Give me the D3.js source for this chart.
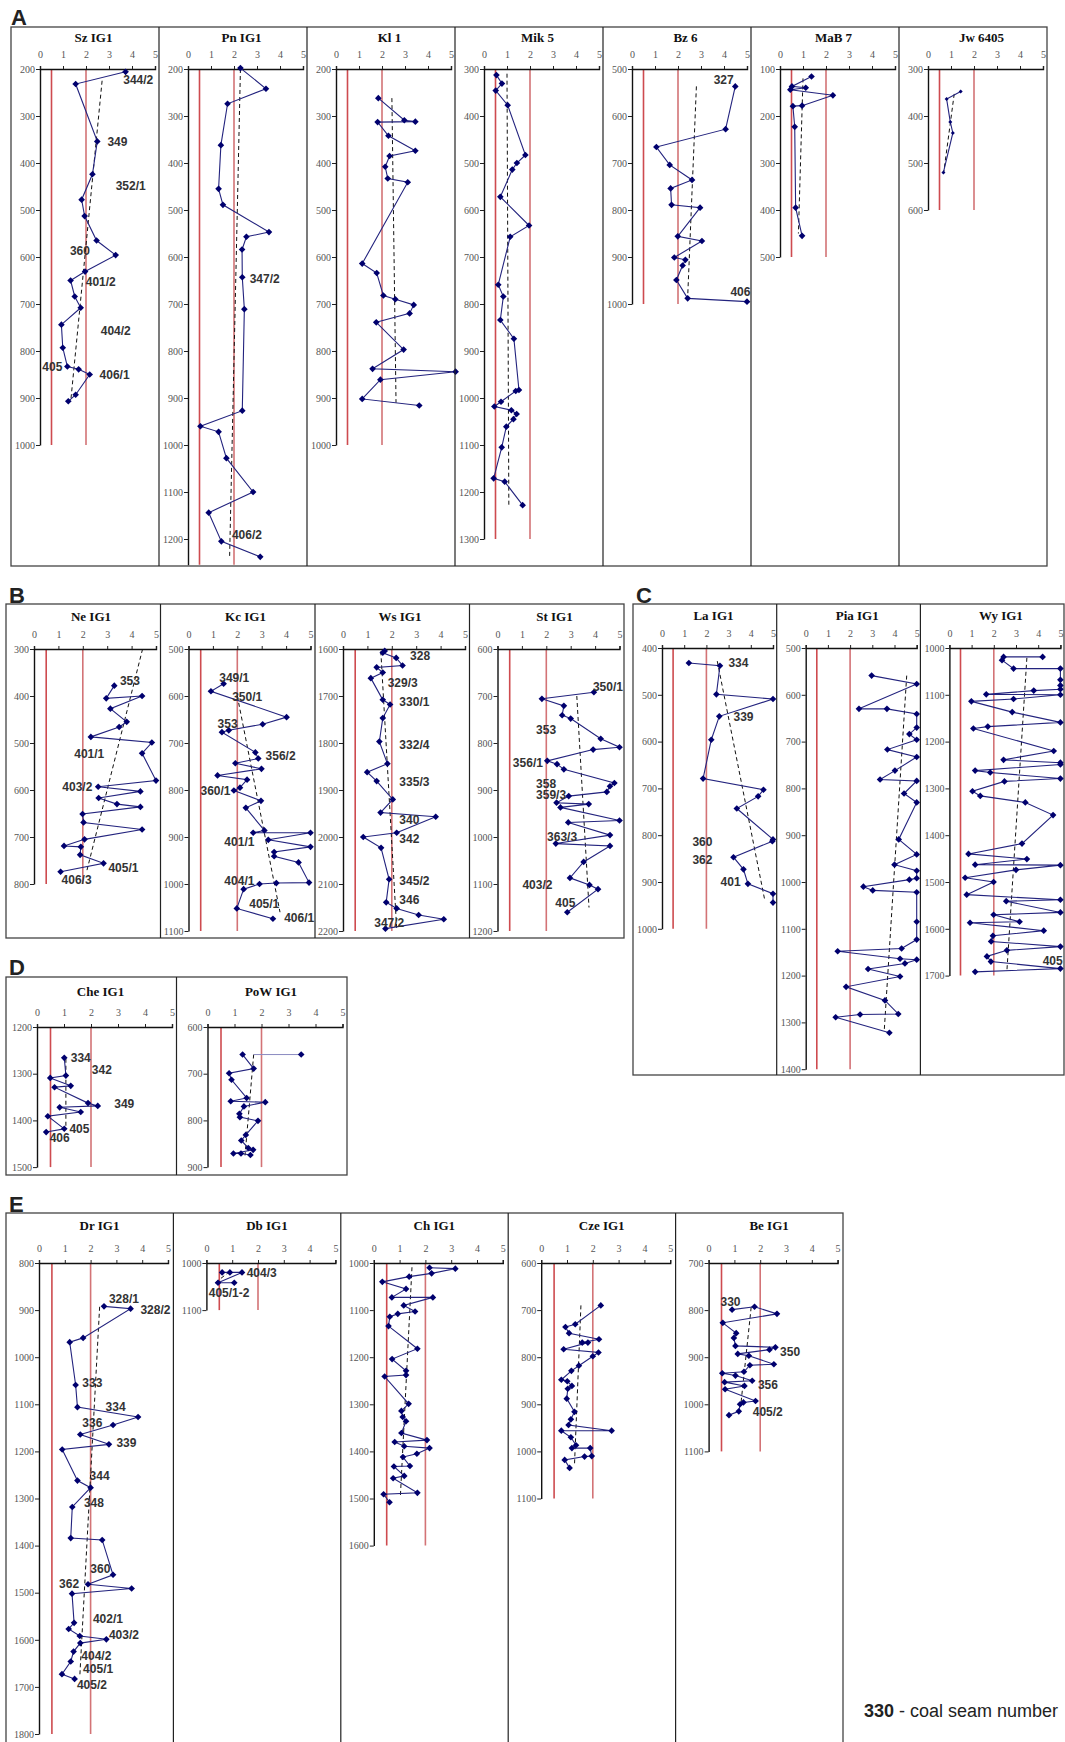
<!DOCTYPE html>
<html><head><meta charset="utf-8">
<script src="https://cdn.jsdelivr.net/npm/d3@7"></script>
<style>body{margin:0;background:#fff}</style>
</head><body><svg id="c" width="1065" height="1742"></svg>
<script>
// ---------- shared ----------
const xTicks = [0, 1, 2, 3, 4, 5];
const thresholds = [0.5, 2];

// ---------- Section A ----------
const szPts = [[3.72,206],[1.55,232],[2.49,354],[2.28,424],[1.81,478],[1.94,513],[2.46,565],[3.29,596],[1.96,631],[1.33,650],[1.51,684],[1.77,708],[0.93,744],[0.99,793],[1.19,833],[1.68,839],[2.16,850],[1.55,893],[1.23,907]];
const szTrend = [[2.7,225],[1.35,900]];
const szSeams = [["344/2",3.62,224],["349",2.93,354],["352/1",3.29,449],["360",1.30,586],["401/2",1.99,652],["404/2",2.64,756],["405",0.10,833],["406/1",2.59,850]];

const pnPts = [[2.28,198],[3.39,242],[1.72,274],[1.43,362],[1.33,455],[1.52,489],[3.52,547],[2.54,557],[2.35,584],[2.36,643],[2.45,711],[2.36,927],[0.54,960],[1.33,972],[1.67,1028],[2.83,1100],[0.90,1144],[1.45,1205],[3.14,1238]];
const pnTrend = [[2.28,200],[1.81,1236]];
const pnSeams = [["347/2",2.68,647],["406/2",1.91,1190]];

const klPts = [[1.84,262],[2.97,309],[3.45,312],[1.81,313],[2.28,342],[3.45,374],[2.33,385],[2.14,408],[2.25,433],[3.12,441],[1.14,614],[1.77,634],[2.06,682],[2.58,690],[3.38,702],[3.20,720],[1.75,739],[2.94,797],[1.59,838],[5.2,844],[1.93,861],[1.14,902],[3.62,916]];
const klTrend = [[2.43,262],[2.61,910]];
const klSeams = [];

const mikPts = [[0.54,313],[0.78,331],[0.51,346],[1.03,377],[1.80,483],[1.43,500],[1.23,514],[0.71,572],[1.96,633],[1.14,657],[0.62,759],[0.84,784],[0.71,834],[1.30,874],[1.52,983],[1.38,985],[0.74,1008],[0.45,1018],[1.19,1026],[1.42,1034],[1.28,1045],[0.97,1061],[0.77,1105],[0.42,1171],[0.90,1178],[1.68,1228]];
const mikTrend = [[1.0,310],[1.08,1230]];
const mikSeams = [];

const bzPts = [[4.49,537],[4.07,628],[1.06,666],[1.64,704],[2.61,736],[1.68,754],[1.72,789],[2.96,795],[1.99,856],[3.04,866],[1.84,901],[2.32,906],[2.20,918],[1.93,949],[2.42,988],[5.0,995]];
const bzTrend = [[2.8,537],[2.42,986]];
const bzSeams = [["327",3.55,522],["406",4.28,973]];

const mabPts = [[1.37,116],[0.52,137],[1.12,140],[0.45,144],[2.30,156],[0.96,178],[0.56,179],[0.64,223],[0.68,395],[0.96,455]];
const mabTrend = [[1.0,120],[0.8,450]];
const mabSeams = [];

const jwPts = [[1.42,348],[0.81,364],[0.97,413],[1.08,436],[0.67,520]];
const jwTrend = [[1.14,353],[0.69,518]];
const jwSeams = [];

// ---------- Section B ----------
const nePts = [[3.29,378],[2.96,405],[4.43,400],[3.13,427],[3.80,455],[3.49,466],[2.33,487],[4.83,499],[4.43,522],[5.0,580],[2.63,593],[4.36,603],[2.65,617],[3.40,630],[4.36,636],[1.99,651],[2.03,669],[4.43,684],[2.07,705],[1.23,719],[1.92,721],[1.89,738],[2.85,756],[1.09,774]];
const neTrend = [[4.45,300],[2.15,775]];
const neSeams = [["353",3.52,367],["401/1",1.65,522],["403/2",1.16,593],["405/1",3.05,765],["406/3",1.13,790]];

const kcPts = [[1.44,574],[0.92,590],[4.02,645],[3.04,660],[1.65,673],[1.37,677],[2.74,720],[2.86,733],[1.92,743],[2.99,755],[1.19,769],[2.40,778],[2.11,795],[1.86,801],[2.97,823],[2.35,838],[3.11,886],[2.65,891],[5.0,891],[3.27,906],[5.0,921],[3.51,932],[3.51,941],[4.51,954],[4.94,997],[3.60,998],[2.91,1000],[2.26,1011],[1.98,1052],[3.46,1074]];
const kcTrend = [[2.0,600],[3.75,1060]];
const kcSeams = [["349/1",1.26,562],["350/1",1.79,601],["353",1.19,659],["356/2",3.16,728],["360/1",0.49,801],["401/1",1.47,911],["404/1",1.47,993],["405/1",2.49,1042],["406/1",3.92,1072]];

const wsPts = [[1.71,1604],[1.63,1608],[2.18,1619],[2.44,1635],[1.38,1639],[1.63,1650],[1.14,1662],[1.63,1708],[1.93,1718],[1.63,1747],[1.49,1797],[1.82,1844],[0.99,1862],[1.38,1881],[2.04,1920],[1.54,1948],[3.80,1957],[2.20,1991],[0.83,2000],[1.56,2023],[1.89,2090],[1.77,2139],[2.20,2152],[3.10,2166],[4.13,2175],[1.74,2195]];
const wsTrend = [[1.55,1605],[2.2,2195]];
const wsSeams = [["328",2.75,1614],["329/3",1.83,1671],["330/1",2.31,1712],["332/4",2.31,1803],["335/3",2.31,1883],["340",2.31,1963],["342",2.31,2003],["345/2",2.31,2094],["346",2.31,2133],["347/2",1.28,2182]];

const stPts = [[3.95,692],[1.82,706],[2.72,721],[2.65,741],[3.00,748],[4.23,791],[5.0,809],[3.92,814],[2.04,838],[2.44,845],[2.72,856],[4.79,885],[4.61,892],[4.48,904],[2.92,913],[2.42,927],[3.74,930],[2.58,937],[5.0,965],[2.90,969],[4.61,996],[2.39,1014],[4.61,1019],[3.53,1053],[2.97,1087],[3.77,1102],[4.12,1111],[2.86,1160]];
const stTrend = [[3.25,700],[3.75,1150]];
const stSeams = [["350/1",3.91,680],["353",1.58,771],["356/1",0.63,842],["358",1.58,886],["359/3",1.58,911],["363/3",2.03,1000],["403/2",1.02,1102],["405",2.37,1141]];

// ---------- Section C ----------
const laPts = [[1.21,432],[2.61,438],[2.45,499],[5.0,509],[2.58,546],[2.22,596],[1.85,679],[4.57,703],[4.33,717],[3.37,743],[5.0,809],[4.97,813],[3.22,847],[3.67,873],[3.87,904],[5.0,925],[5.0,944]];
const laTrend = [[2.49,428],[4.63,939]];
const laSeams = [["334",2.99,432],["339",3.22,548],["360",1.37,814],["362",1.37,853],["401",2.64,900]];

const piaPts = [[2.97,559],[5.0,577],[2.40,630],[3.66,630],[5.0,641],[5.0,670],[4.67,684],[5.0,696],[3.68,717],[5.0,733],[4.02,762],[3.35,781],[5.0,784],[4.43,811],[5.0,830],[4.19,909],[5.0,941],[4.0,963],[5.0,976],[5.0,992],[4.67,995],[2.6,1010],[3.02,1018],[5.0,1022],[5.0,1085],[5.0,1123],[4.32,1142],[1.44,1148],[4.25,1164],[5.0,1166],[4.47,1174],[2.81,1186],[4.25,1202],[1.82,1224],[3.57,1253],[4.17,1282],[2.45,1283],[1.35,1289],[3.77,1322]];
const piaTrend = [[4.55,559],[3.54,1316]];
const piaSeams = [];

const wyPts = [[4.2,1019],[2.44,1019],[2.37,1026],[2.89,1044],[5.0,1044],[5.0,1068],[5.0,1080],[5.0,1088],[3.80,1091],[1.66,1099],[5.0,1100],[2.89,1109],[0.99,1114],[2.83,1137],[5.0,1159],[1.73,1168],[1.08,1172],[4.70,1220],[2.44,1239],[5.0,1245],[5.0,1249],[1.16,1262],[1.84,1266],[5.0,1279],[2.48,1285],[1.04,1306],[1.39,1316],[3.42,1330],[4.67,1357],[3.27,1418],[0.86,1440],[3.49,1451],[1.16,1463],[5.0,1464],[3.0,1474],[0.71,1491],[1.99,1500],[0.78,1527],[5.0,1538],[2.56,1541],[5.0,1565],[1.99,1570],[3.16,1585],[0.93,1587],[4.25,1604],[1.96,1615],[1.88,1627],[5.0,1638],[2.59,1646],[1.69,1659],[1.87,1670],[5.0,1685],[1.16,1692]];
const wyTrend = [[3.49,1021],[2.59,1690]];
const wySeams = [["405",4.2,1668]];

// ---------- Section D ----------
const chePts = [[1.01,1266],[1.07,1304],[0.49,1309],[1.25,1326],[0.65,1329],[1.89,1363],[2.25,1369],[0.84,1372],[1.62,1382],[0.40,1391],[1.01,1418],[0.34,1425]];
const cheTrend = [[1.07,1268],[1.07,1414]];
const cheSeams = [["334",1.25,1266],["342",2.03,1291],["349",2.86,1364],["405",1.2,1418],["406",0.47,1437]];

const powPts = [[1.30,659],[1.71,689],[0.80,699],[0.89,713],[1.45,752],[0.86,759],[2.14,761],[1.35,770],[1.18,786],[1.20,793],[1.87,801],[1.42,831],[1.25,843],[1.51,859],[1.69,863],[0.96,871],[1.24,871],[1.59,874]];
const powExtra = [[3.47,659]];
const powTrend = [[1.71,659],[1.39,875]];
const powSeams = [];

// ---------- Section E ----------
const drPts = [[2.52,892],[3.55,897],[1.71,959],[1.19,968],[1.42,1059],[1.49,1106],[3.84,1127],[2.87,1144],[1.60,1164],[2.71,1185],[0.90,1196],[1.49,1262],[2.0,1277],[1.29,1318],[1.23,1384],[2.45,1388],[2.87,1462],[1.90,1482],[3.59,1491],[1.28,1502],[1.36,1564],[1.15,1577],[1.58,1592],[2.61,1599],[1.60,1607],[1.34,1625],[1.23,1646],[0.89,1673],[1.38,1683]];
const drTrend = [[2.35,893],[1.58,1679]];
const drSeams = [["328/1",2.71,876],["328/2",3.93,899],["333",1.68,1055],["334",2.58,1105],["336",1.68,1139],["339",3.0,1182],["344",1.96,1251],["348",1.74,1310],["360",1.99,1449],["362",0.78,1481],["402/1",2.09,1556],["403/2",2.71,1589],["404/2",1.64,1634],["405/1",1.71,1662],["405/2",1.47,1695]];

const dbPts = [[0.61,1020],[0.91,1020],[1.38,1020],[0.45,1042],[1.08,1042]];
const dbTrend = [[0.9,1018],[0.3,1044]];
const dbSeams = [["404/3",1.56,1020],["405/1-2",0.09,1064]];

const chPts = [[2.16,1010],[3.16,1012],[2.24,1022],[1.37,1029],[0.33,1040],[1.25,1055],[0.70,1073],[2.29,1073],[1.16,1090],[1.60,1103],[0.93,1108],[0.62,1114],[0.57,1134],[1.69,1182],[0.71,1204],[1.25,1229],[1.25,1238],[0.42,1241],[1.35,1299],[1.07,1314],[1.12,1327],[1.25,1336],[1.07,1361],[2.06,1376],[0.81,1380],[1.18,1389],[2.16,1393],[1.67,1405],[1.13,1412],[1.40,1431],[0.78,1432],[1.18,1452],[0.75,1457],[1.69,1488],[0.38,1491],[0.61,1508]];
const chTrend = [[1.48,1009],[1.03,1496]];
const chSeams = [];

const czePts = [[2.31,690],[1.32,730],[0.94,736],[1.08,749],[2.24,762],[1.59,769],[1.81,769],[0.87,783],[2.22,790],[2.0,798],[1.46,818],[1.17,829],[0.78,848],[1.01,851],[1.19,861],[1.03,867],[0.99,888],[1.29,916],[1.15,932],[1.06,944],[2.73,956],[0.78,956],[1.15,970],[1.35,987],[1.19,993],[1.90,993],[1.96,1010],[1.68,1011],[0.91,1018],[1.10,1035]];
const czeTrend = [[1.54,690],[1.29,1029]];
const czeSeams = [];

const bePts = [[0.91,799],[1.78,793],[2.65,808],[0.55,827],[1.07,849],[0.98,859],[1.04,876],[2.59,879],[2.36,884],[1.13,893],[1.56,897],[2.53,915],[1.60,917],[1.37,931],[0.53,934],[1.04,939],[1.69,950],[0.62,953],[1.39,961],[0.64,968],[1.82,993],[1.35,996],[1.22,1000],[1.17,1015],[0.79,1023]];
const beTrend = [[1.65,794],[1.26,995]];
const beSeams = [["330",0.46,783],["350",2.77,888],["356",1.91,958],["405/2",1.71,1015]];

// ---------- layout ----------
const sections = [
  {letter:"A", lx:11, ly:25, x0:11, y0:27, x1:1047, y1:566, pw:148, titleY:42, axisTop:69, xOff:29, xLen:115, k:0.47,
   panels:[
    {name:"Sz IG1", domain:[200,1000], pts:szPts, trend:szTrend, seams:szSeams},
    {name:"Pn IG1", domain:[200,1255], tickMax:1200, pts:pnPts, trend:pnTrend, seams:pnSeams},
    {name:"Kl 1", domain:[200,1000], pts:klPts, trend:klTrend, seams:klSeams},
    {name:"Mik 5", domain:[300,1300], pts:mikPts, trend:mikTrend, seams:mikSeams},
    {name:"Bz 6", domain:[500,1000], pts:bzPts, trend:bzTrend, seams:bzSeams},
    {name:"MaB 7", domain:[100,500], pts:mabPts, trend:mabTrend, seams:mabSeams},
    {name:"Jw 6405", domain:[300,600], pts:jwPts, trend:jwTrend, seams:jwSeams, small:true}
   ]},
  {letter:"B", lx:9, ly:603, x0:6, y0:604, x1:624, y1:938, pw:154.5, titleY:621, axisTop:649, xOff:28, xLen:122, k:0.47,
   panels:[
    {name:"Ne IG1", domain:[300,800], pts:nePts, trend:neTrend, seams:neSeams},
    {name:"Kc IG1", domain:[500,1100], pts:kcPts, trend:kcTrend, seams:kcSeams},
    {name:"Ws IG1", domain:[1600,2200], pts:wsPts, trend:wsTrend, seams:wsSeams},
    {name:"St IG1", domain:[600,1200], pts:stPts, trend:stTrend, seams:stSeams}
   ]},
  {letter:"C", lx:636, ly:603, x0:633, y0:604, x1:1064, y1:1075, pw:143.7, titleY:620, axisTop:648, xOff:29, xLen:111, k:0.468,
   panels:[
    {name:"La IG1", domain:[400,1000], pts:laPts, trend:laTrend, seams:laSeams},
    {name:"Pia IG1", domain:[500,1400], pts:piaPts, trend:piaTrend, seams:piaSeams},
    {name:"Wy IG1", domain:[1000,1700], pts:wyPts, trend:wyTrend, seams:wySeams}
   ]},
  {letter:"D", lx:9, ly:975, x0:6, y0:977, x1:347, y1:1175, pw:170.5, titleY:996, axisTop:1027, xOff:31, xLen:135, k:0.467,
   panels:[
    {name:"Che IG1", domain:[1200,1500], pts:chePts, trend:cheTrend, seams:cheSeams},
    {name:"PoW IG1", domain:[600,900], pts:powPts, extra:powExtra, trend:powTrend, seams:powSeams}
   ]},
  {letter:"E", lx:9, ly:1212, x0:6, y0:1213, x1:843, y1:1760, pw:167.4, titleY:1230, axisTop:1263, xOff:33, xLen:129, k:0.471,
   panels:[
    {name:"Dr IG1", domain:[800,1800], pts:drPts, trend:drTrend, seams:drSeams},
    {name:"Db IG1", domain:[1000,1100], pts:dbPts, trend:dbTrend, seams:dbSeams},
    {name:"Ch IG1", domain:[1000,1600], pts:chPts, trend:chTrend, seams:chSeams},
    {name:"Cze IG1", domain:[600,1100], pts:czePts, trend:czeTrend, seams:czeSeams},
    {name:"Be IG1", domain:[700,1100], pts:bePts, trend:beTrend, seams:beSeams}
   ]}
];

const svg = d3.select("#c");
const SERIF = "'Liberation Serif','Times New Roman',serif";
const SANS = "'Liberation Sans',Arial,sans-serif";

sections.forEach(sec => {
  svg.append("text").attr("x", sec.lx).attr("y", sec.ly).text(sec.letter)
    .attr("font-family", SANS).attr("font-weight", "bold").attr("font-size", 22).attr("fill", "#222");
  svg.append("rect").attr("x", sec.x0).attr("y", sec.y0)
    .attr("width", sec.x1 - sec.x0).attr("height", sec.y1 - sec.y0)
    .attr("fill", "none").attr("stroke", "#444").attr("stroke-width", 1.3);

  sec.panels.forEach((p, i) => {
    const left = sec.x0 + i * sec.pw;
    if (i > 0) {
      svg.append("line").attr("x1", left).attr("x2", left).attr("y1", sec.y0).attr("y2", sec.y1)
        .attr("stroke", "#222").attr("stroke-width", 1.2);
    }
    const x = d3.scaleLinear().domain([0, 5]).range([left + sec.xOff, left + sec.xOff + sec.xLen]);
    const y = d3.scaleLinear().domain(p.domain)
      .range([sec.axisTop, sec.axisTop + (p.domain[1] - p.domain[0]) * sec.k]);
    const g = svg.append("g");

    // title
    g.append("text").attr("x", (x(0) + x(5)) / 2 - 4).attr("y", sec.titleY)
      .attr("text-anchor", "middle").attr("font-family", SERIF).attr("font-weight", "bold")
      .attr("font-size", 13).attr("fill", "#111").text(p.name);

    // threshold lines
    thresholds.forEach((t, j) => {
      g.append("line").attr("x1", x(t)).attr("x2", x(t))
        .attr("y1", y(p.domain[0])).attr("y2", y(p.domain[1]))
        .attr("stroke", j === 0 ? "#c9383c" : "#cf6468").attr("stroke-width", 1.6).attr("opacity", 0.9);
    });

    // axes
    const tickMax = p.tickMax || p.domain[1];
    const yTicks = d3.range(p.domain[0], tickMax + 1, 100);
    const ax = g.append("g").attr("transform", `translate(0,${sec.axisTop})`)
      .call(d3.axisTop(x).tickValues(xTicks).tickSize(3).tickSizeOuter(3).tickPadding(8).tickFormat(d3.format("d")));
    const ay = g.append("g").attr("transform", `translate(${x(0)},0)`)
      .call(d3.axisLeft(y).tickValues(yTicks).tickSize(4).tickSizeOuter(0).tickPadding(1).tickFormat(d3.format("d")));
    [ax, ay].forEach(a => {
      a.select(".domain").attr("stroke", "#111").attr("stroke-width", 1.4);
      a.selectAll(".tick line").attr("stroke", "#222");
      a.selectAll(".tick text").attr("font-family", SERIF).attr("font-size", 10).attr("fill", "#555");
    });

    // trend (dashed)
    g.append("line").attr("x1", x(p.trend[0][0])).attr("y1", y(p.trend[0][1]))
      .attr("x2", x(p.trend[1][0])).attr("y2", y(p.trend[1][1]))
      .attr("stroke", "#111").attr("stroke-width", 1).attr("stroke-dasharray", "4,3");

    // connecting line
    const line = d3.line().x(d => x(d[0])).y(d => y(d[1]));
    g.append("path").datum(p.pts).attr("d", line).attr("fill", "none")
      .attr("stroke", "#23237e").attr("stroke-width", 1.1);
    if (p.extra) {
      p.extra.forEach(e => {
        g.append("line").attr("x1", x(e[0])).attr("y1", y(e[1]))
          .attr("x2", x(p.trend[0][0])).attr("y2", y(p.trend[0][1]))
          .attr("stroke", "#8a8ac0").attr("stroke-width", 1);
      });
    }

    // markers
    const sym = d3.symbol().type(d3.symbolSquare).size(p.small ? 8 : 22);
    g.selectAll("path.m").data(p.pts.concat(p.extra || [])).join("path").attr("class", "m")
      .attr("d", sym).attr("transform", d => `translate(${x(d[0])},${y(d[1])}) rotate(45)`)
      .attr("fill", "#00006e");

    // seam labels
    g.selectAll("text.s").data(p.seams).join("text").attr("class", "s")
      .attr("x", d => x(d[1])).attr("y", d => y(d[2])).attr("dy", "0.35em")
      .attr("font-family", SANS).attr("font-weight", "bold").attr("font-size", 12)
      .attr("fill", "#333").text(d => d[0]);
  });
});

// legend
const leg = svg.append("text").attr("x", 864).attr("y", 1717)
  .attr("font-family", SANS).attr("font-size", 18).attr("fill", "#222");
leg.append("tspan").attr("font-weight", "bold").text("330");
leg.append("tspan").text(" - coal seam number");
</script></body></html>
